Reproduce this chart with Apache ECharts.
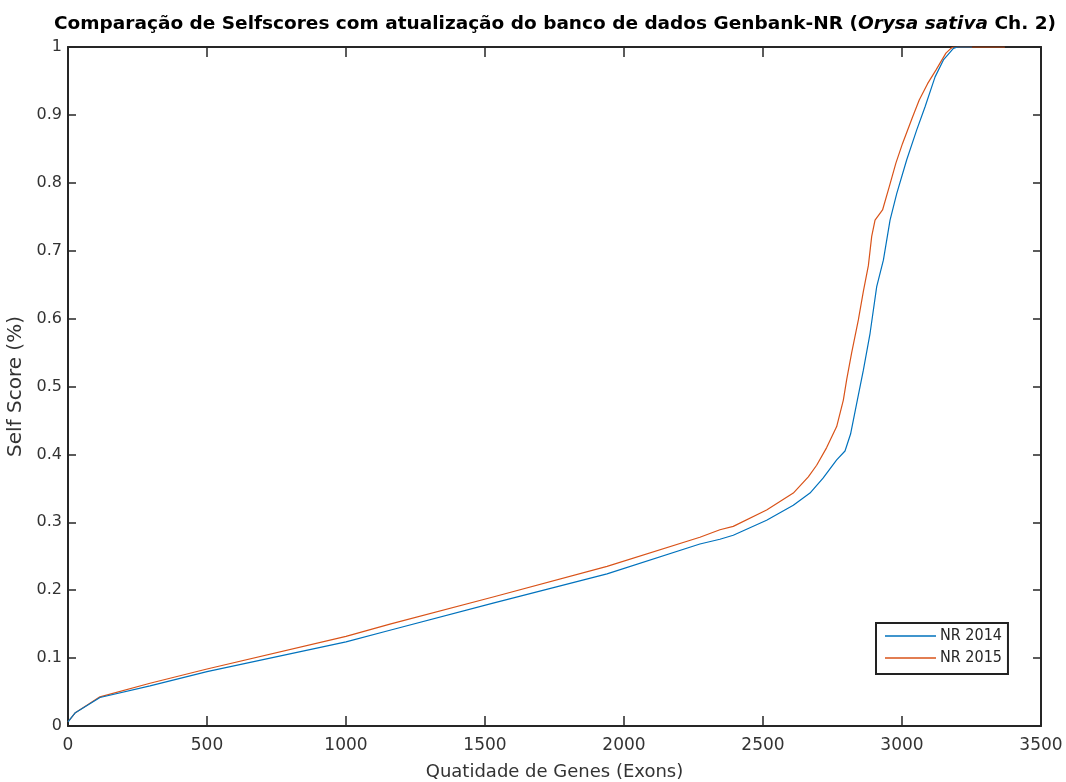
<!DOCTYPE html>
<html>
<head>
<meta charset="utf-8">
<script src="https://cdn.jsdelivr.net/npm/echarts@6/dist/echarts.min.js"></script>
<style>
  html, body { margin: 0; padding: 0; background: #fff; }
  #chart { width: 1066px; height: 782px; }
</style>
</head>
<body>
<div id="chart"></div>
<script>
// NR 2014 (blue) - [exons, self score]
const nr2014X = [0, 25, 115, 295, 500, 1000, 1158, 1529, 1939, 2273, 2345, 2393, 2513, 2609, 2669, 2716, 2765, 2795, 2815, 2837, 2861, 2885, 2909, 2933, 2957, 2981, 3017, 3053, 3083, 3119, 3149, 3185, 3200, 3252]
const nr2014Y = [0.006, 0.019, 0.042, 0.059, 0.080, 0.124, 0.141, 0.181, 0.224, 0.268, 0.275, 0.281, 0.303, 0.325, 0.343, 0.365, 0.392, 0.405, 0.430, 0.475, 0.524, 0.578, 0.647, 0.686, 0.745, 0.784, 0.834, 0.878, 0.912, 0.956, 0.981, 0.998, 1.0, 1.0]

// NR 2015 (orange)
const nr2015X = [0, 25, 115, 295, 500, 1000, 1158, 1529, 1939, 2273, 2345, 2393, 2513, 2609, 2663, 2693, 2729, 2765, 2789, 2801, 2819, 2843, 2861, 2879, 2891, 2903, 2930, 2954, 2978, 3002, 3038, 3062, 3092, 3122, 3158, 3176, 3185, 3370]
const nr2015Y = [0.006, 0.019, 0.043, 0.063, 0.084, 0.132, 0.150, 0.190, 0.235, 0.278, 0.289, 0.294, 0.318, 0.343, 0.367, 0.384, 0.410, 0.441, 0.480, 0.510, 0.550, 0.598, 0.640, 0.678, 0.721, 0.745, 0.760, 0.794, 0.829, 0.858, 0.897, 0.922, 0.946, 0.966, 0.991, 0.998, 1.0, 1.0]

const seriesNames = ['NR 2014', 'NR 2015']
const colors = ['#0072BD', '#D95319']

const zip = (xs, ys) => xs.map((x, i) => [x, ys[i]])

const axisColor = '#262626'
const labelColor = '#333'

const chart = echarts.init(document.getElementById('chart'))

// box axes (top / right) only carry inward ticks, no labels
const boxLine = { onZero: false, lineStyle: { color: axisColor, width: 2 } }

const option = {
  animation: false,
  backgroundColor: '#fff',
  title: {
    text: 'Comparação de Selfscores com atualização do banco de dados Genbank-NR ({i|Orysa sativa} Ch. 2)',
    left: 550,
    textAlign: 'center',
    top: 10,
    textStyle: {
      fontFamily: 'DejaVu Sans',
      fontSize: 18.5,
      fontWeight: 'bold',
      color: '#000',
      rich: {
        i: { fontFamily: 'DejaVu Sans', fontSize: 18.5, fontWeight: 'bold', fontStyle: 'italic', color: '#000' },
      },
    },
  },
  grid: { left: 68, right: 25, top: 47, bottom: 56, containLabel: false, outerBoundsMode: 'none' },
  legend: {
    data: seriesNames,
    orient: 'vertical',
    left: 876,
    top: 623,
    backgroundColor: '#fff',
    borderColor: '#222',
    borderWidth: 2,
    borderRadius: 0,
    padding: [5, 6, 8, 9],
    itemGap: 6,
    itemWidth: 51,
    itemHeight: 1.5,
    icon: 'rect',
    textStyle: { fontFamily: 'DejaVu Sans Condensed, DejaVu Sans', fontSize: 16, color: '#262626', padding: [0, 0, 0, -1] },
  },
  xAxis: [
    {
      type: 'value',
      min: 0,
      max: 3500,
      interval: 500,
      axisLine: { lineStyle: { color: axisColor, width: 2 } },
      axisTick: { inside: true, length: 10, lineStyle: { color: axisColor, width: 1.5 } },
      axisLabel: { fontFamily: 'DejaVu Sans', fontSize: 17, color: labelColor, margin: 11, formatter: (v) => String(v) },
      splitLine: { show: false },
      name: 'Quatidade de Genes (Exons)',
      nameLocation: 'middle',
      nameGap: 37,
      nameTextStyle: { fontFamily: 'DejaVu Sans', fontSize: 18, color: labelColor },
    },
    {
      type: 'value',
      position: 'top',
      min: 0,
      max: 3500,
      interval: 500,
      axisLine: boxLine,
      axisTick: { inside: true, length: 10, lineStyle: { color: axisColor, width: 1.5 } },
      axisLabel: { show: false },
      splitLine: { show: false },
    },
  ],
  yAxis: [
    {
      type: 'value',
      min: 0,
      max: 1,
      interval: 0.1,
      axisLine: { lineStyle: { color: axisColor, width: 2 } },
      axisTick: { inside: true, length: 8, lineStyle: { color: axisColor, width: 1.5 } },
      axisLabel: {
        fontFamily: 'DejaVu Sans',
        fontSize: 16,
        color: labelColor,
        margin: 6,
        formatter: (v) => String(parseFloat(v.toFixed(1))),
      },
      splitLine: { show: false },
      name: 'Self Score (%)',
      nameLocation: 'middle',
      nameGap: 40,
      nameRotate: 90,
      nameTextStyle: { fontFamily: 'DejaVu Sans', fontSize: 20, color: labelColor },
    },
    {
      type: 'value',
      position: 'right',
      min: 0,
      max: 1,
      interval: 0.1,
      axisLine: boxLine,
      axisTick: { inside: true, length: 8, lineStyle: { color: axisColor, width: 1.5 } },
      axisLabel: { show: false },
      splitLine: { show: false },
    },
  ],
  series: [
    {
      name: seriesNames[0],
      type: 'line',
      data: zip(nr2014X, nr2014Y),
      showSymbol: false,
      symbol: 'none',
      color: colors[0],
      lineStyle: { width: 1.2, color: colors[0] },
      z: 3,
    },
    {
      name: seriesNames[1],
      type: 'line',
      data: zip(nr2015X, nr2015Y),
      showSymbol: false,
      symbol: 'none',
      color: colors[1],
      lineStyle: { width: 1.2, color: colors[1] },
      z: 2,
    },
  ],
}

chart.setOption(option)
</script>
</body>
</html>
